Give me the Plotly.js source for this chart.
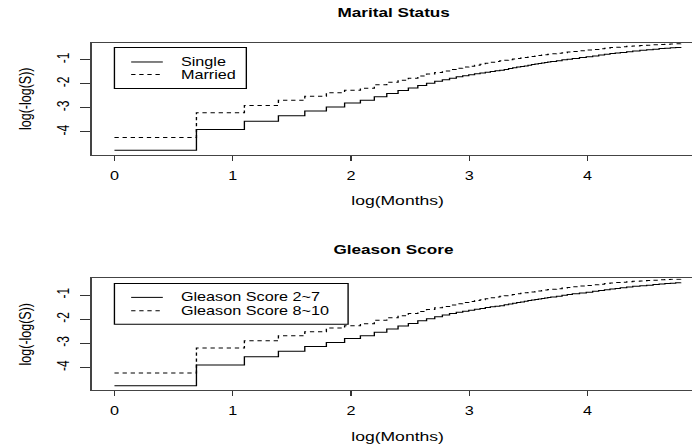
<!DOCTYPE html>
<html>
<head>
<meta charset="utf-8">
<script src="https://cdn.plot.ly/plotly-3.0.1.min.js"></script>
<style>
  html, body { margin:0; padding:0; background:#fff; width:692px; height:448px; overflow:hidden; }
  #plot { width:526px; height:448px; transform: scaleX(1.35); transform-origin: 0 0; }
</style>
</head>
<body>
<div id="plot"></div>
<script>
// ---- data (months of follow-up and log(-log(S))) ----
const months = [1,2,3,4,5,6,7,8,9,10,11,12,13,14,15,16,17,18,19,20,21,22,23,24,
                25,26,27,28,29,30,31,32,33,34,35,36,37,38,39,40,42,44,46,48,
                51,54,57,60,63,66,69,72,76,80,85,90,95,100,105,110,115,120];
const singleVals = [-4.76,-3.90,-3.56,-3.33,-3.13,-2.97,-2.80,-2.69,-2.54,-2.41,-2.28,-2.18,
                    -2.07,-1.98,-1.90,-1.83,-1.77,-1.71,-1.67,-1.63,-1.59,-1.56,-1.52,-1.49,
                    -1.465,-1.44,-1.405,-1.37,-1.34,-1.31,-1.285,-1.26,-1.23,-1.205,-1.185,-1.16,
                    -1.14,-1.12,-1.10,-1.08,-1.045,-1.01,-0.98,-0.95,
                    -0.915,-0.88,-0.845,-0.81,-0.78,-0.75,-0.725,-0.70,-0.67,-0.64,-0.615,-0.59,
                    -0.565,-0.54,-0.525,-0.51,-0.495,-0.48];
const marriedVals = [-4.23,-3.20,-2.90,-2.69,-2.52,-2.37,-2.27,-2.19,-2.04,-1.94,-1.86,-1.77,
                     -1.68,-1.60,-1.53,-1.47,-1.41,-1.36,-1.31,-1.27,-1.23,-1.19,-1.15,-1.11,
                     -1.08,-1.05,-1.025,-1.00,-0.975,-0.95,-0.93,-0.91,-0.89,-0.87,-0.85,-0.83,
                     -0.81,-0.795,-0.775,-0.76,-0.735,-0.71,-0.685,-0.66,
                     -0.63,-0.60,-0.575,-0.55,-0.525,-0.50,-0.485,-0.47,-0.45,-0.43,-0.415,-0.40,
                     -0.385,-0.37,-0.36,-0.35,-0.345,-0.34];
const gleasonLowVals = [-4.76,-3.90,-3.56,-3.33,-3.13,-2.97,-2.80,-2.69,-2.54,-2.41,-2.28,-2.18,
                        -2.07,-1.98,-1.90,-1.83,-1.77,-1.71,-1.67,-1.63,-1.59,-1.56,-1.52,-1.49,
                        -1.465,-1.44,-1.405,-1.37,-1.34,-1.31,-1.285,-1.26,-1.23,-1.205,-1.185,-1.16,
                        -1.14,-1.12,-1.10,-1.08,-1.045,-1.01,-0.98,-0.95,
                        -0.915,-0.88,-0.845,-0.81,-0.78,-0.75,-0.725,-0.70,-0.67,-0.64,-0.615,-0.59,
                        -0.565,-0.54,-0.525,-0.51,-0.495,-0.48];
const gleasonHighVals = [-4.23,-3.20,-2.90,-2.69,-2.52,-2.37,-2.27,-2.19,-2.04,-1.94,-1.86,-1.77,
                         -1.68,-1.60,-1.53,-1.47,-1.41,-1.36,-1.31,-1.27,-1.23,-1.19,-1.15,-1.11,
                         -1.08,-1.05,-1.025,-1.00,-0.975,-0.95,-0.93,-0.91,-0.89,-0.87,-0.85,-0.83,
                         -0.81,-0.795,-0.775,-0.76,-0.735,-0.71,-0.685,-0.66,
                         -0.63,-0.60,-0.575,-0.55,-0.525,-0.50,-0.485,-0.47,-0.45,-0.43,-0.415,-0.40,
                         -0.385,-0.37,-0.36,-0.35,-0.345,-0.34];
const xTicks = [0,1,2,3,4];
const yTicks = [-4,-3,-2,-1];
const panelTitles = ['Marital Status','Gleason Score'];
const legend1 = ['Single','Married'];
const legend2 = ['Gleason Score 2~7','Gleason Score 8~10'];
const xTitle = 'log(Months)';
const yTitle = 'log(-log(S))';

// ---- geometry helpers (reference pixels -> paper fractions) ----
const S = 1.35, W0 = 526, H = 448;
const M = {l: 92.4/S, r: W0 - 703/S, t: 42.7, b: 58};
const PW = W0 - M.l - M.r, PH = H - M.t - M.b;
const px = X => (X/S - M.l)/PW;
const py = Y => (H - M.b - Y)/PH;

const logM = months.map(m => Math.log(m));
const FONT = 'Liberation Sans, Arial, Helvetica, sans-serif';
const solid = {color:'#000', width:1, shape:'hv'};
const dashed = {color:'#000', width:1, shape:'hv', dash:'3.2px,2.8px'};

const traces = [
  {x: logM, y: singleVals, mode:'lines', line: solid, xaxis:'x', yaxis:'y', name: legend1[0], showlegend:false},
  {x: logM, y: marriedVals, mode:'lines', line: dashed, xaxis:'x', yaxis:'y', name: legend1[1], showlegend:false},
  {x: logM, y: gleasonLowVals, mode:'lines', line: solid, xaxis:'x2', yaxis:'y2', name: legend2[0], showlegend:false},
  {x: logM, y: gleasonHighVals, mode:'lines', line: dashed, xaxis:'x2', yaxis:'y2', name: legend2[1], showlegend:false}
];

const xRange = [-0.1915, 4.979];
const yRange = [-4.937, -0.31];
function xax(anchor){
  return {domain:[0,1], anchor, range:xRange, tickvals:xTicks, ticktext:xTicks.map(String),
    ticks:'outside', ticklen:5, tickwidth:1, tickcolor:'#333', ticklabelstandoff:5,
    showline:true, mirror:true, linecolor:'#444', linewidth:1, showgrid:false, zeroline:false,
    tickfont:{family:FONT, size:12, color:'#000'},
    title:{text:xTitle, font:{family:FONT, size:13, color:'#000'}, standoff:14}};
}
function yax(anchor, dom){
  return {domain:dom, anchor, range:yRange, tickvals:yTicks, ticktext:yTicks.map(String),
    ticks:'outside', ticklen:7.4, tickwidth:1, tickcolor:'#333', tickangle:-90, ticklabelstandoff:4,
    showline:true, mirror:true, linecolor:'#444', linewidth:1, showgrid:false, zeroline:false,
    tickfont:{family:FONT, size:12, color:'#000'},
    title:{text:yTitle, font:{family:FONT, size:12.5, color:'#000'}, standoff:13}};
}

const shapes = [], annotations = [];
function legendBox(x0, x1, y0, y1, ly, tx, labels){
  shapes.push({type:'rect', xref:'paper', yref:'paper', x0:px(x0), x1:px(x1), y0:py(y0), y1:py(y1),
               line:{color:'#000', width:1}, fillcolor:'rgba(0,0,0,0)'});
  labels.forEach((lab, i) => {
    shapes.push({type:'line', xref:'paper', yref:'paper', x0:px(131.7), x1:px(163.3), y0:py(ly[i]), y1:py(ly[i]),
                 line:{color:'#000', width:1, dash: i === 0 ? 'solid' : '3.2px,2.8px'}});
    annotations.push({text:lab, xref:'paper', yref:'paper', x:px(tx), y:py(ly[i]), xanchor:'left', yanchor:'middle',
                      showarrow:false, font:{family:FONT, size:12, color:'#000'}});
  });
}
legendBox(115, 246.7, 47.3, 88.3, [61.7, 74.3], 179, legend1);
legendBox(115, 348.3, 283.3, 324.3, [297.3, 310.7], 178.3, legend2);
[[13, panelTitles[0]], [250, panelTitles[1]]].forEach(([y, t]) => {
  annotations.push({text:'<b>'+t+'</b>', xref:'paper', yref:'paper', x:px(394), y:py(y), xanchor:'center', yanchor:'middle',
                    showarrow:false, font:{family:FONT, size:12.7, color:'#000'}});
});

const layout = {
  width: W0, height: H, margin: M, paper_bgcolor:'#fff', plot_bgcolor:'#fff', showlegend:false,
  xaxis: xax('y'), yaxis: yax('x', [py(154.3), 1]),
  xaxis2: xax('y2'), yaxis2: yax('x2', [0, py(278.3)]),
  shapes, annotations
};
Plotly.newPlot('plot', traces, layout, {staticPlot:true, displayModeBar:false});
</script>
</body>
</html>
